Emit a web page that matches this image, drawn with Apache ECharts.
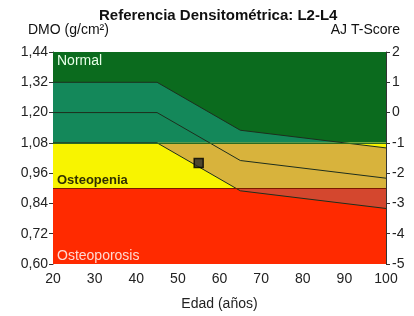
<!DOCTYPE html>
<html>
<head>
<meta charset="utf-8">
<script src="https://cdn.jsdelivr.net/npm/echarts@6/dist/echarts.min.js"></script>
<style>
html, body { margin: 0; padding: 0; background: #fff; }
#chart { width: 414px; height: 316px; }
</style>
</head>
<body>
<div id="chart"></div>
<script>
// reference curve (BMD g/cm2 by age), +1 SD / mean / -1 SD
var ages = [20, 45, 65, 100];
var upperSd = [1.32, 1.32, 1.13, 1.06];
var meanBmd = [1.20, 1.20, 1.01, 0.94];
var lowerSd = [1.08, 1.08, 0.89, 0.82];
// patient measurement [age, bmd]
var patient = [[55, 1.00]];

// WHO zones (T = -1 -> 1.08, T = -2.5 -> 0.90)
var zoneNames = ['Normal', 'Osteopenia', 'Osteoporosis'];
var zoneLimits = [[1.08, 1.44], [0.90, 1.08], [0.60, 0.90]];
var zoneColors = ['#0b6b1e', '#f8f400', '#ff2a00'];
var zoneTextColors = ['#e8ffe8', '#303000', '#ffd8d0'];
var bandColors = ['#14885a', '#d8b33c', '#d4472e'];

var ageMin = 20, ageMax = 100;
var bmdMin = 0.60, bmdMax = 1.44, bmdStep = 0.12;
var tMin = -5, tMax = 2;

function zip(xs, ys) {
    return xs.map(function (x, i) { return [x, ys[i]]; });
}

// clip a closed polygon to the horizontal slab lo..hi
function clipToSlab(pts, lo, hi) {
    var out = [];
    for (var i = 0; i < pts.length; i++) {
        var a = pts[i], b = pts[(i + 1) % pts.length];
        out.push(a);
        var cuts = [];
        [lo, hi].forEach(function (t) {
            if ((a[1] - t) * (b[1] - t) < 0) {
                var s = (t - a[1]) / (b[1] - a[1]);
                cuts.push([s, [a[0] + s * (b[0] - a[0]), t]]);
            }
        });
        cuts.sort(function (p, q) { return p[0] - q[0]; });
        cuts.forEach(function (c) { out.push(c[1]); });
    }
    return out.map(function (p) {
        return [p[0], Math.min(hi, Math.max(lo, p[1]))];
    });
}

var bandPoly = zip(ages, upperSd).concat(zip(ages, lowerSd).reverse());
var bandParts = zoneLimits.map(function (z) { return clipToSlab(bandPoly, z[0], z[1]); });

var chart = echarts.init(document.getElementById('chart'));
var font = 'Arial, "Liberation Sans", sans-serif';

var option = {
    animation: false,
    textStyle: { fontFamily: font },
    title: {
        text: 'Referencia Densitométrica: L2-L4',
        left: 94, top: 3,
        textStyle: { fontSize: 15, fontWeight: 'bold', color: '#111', fontFamily: font }
    },
    graphic: [
        { type: 'text', left: 28, top: 23, style: { text: 'DMO (g/cm²)', fontSize: 14, fill: '#111', fontFamily: font } },
        { type: 'text', right: 14, top: 23, style: { text: 'AJ T-Score', fontSize: 14, fill: '#111', fontFamily: font } }
    ],
    grid: { left: 53, right: 28, top: 52, bottom: 52 },
    xAxis: {
        type: 'value', min: ageMin, max: ageMax, interval: 10,
        name: 'Edad (años)', nameLocation: 'middle', nameGap: 33,
        nameTextStyle: { fontSize: 14, color: '#222' },
        axisLine: { lineStyle: { color: '#333' } },
        axisTick: { length: 3, lineStyle: { color: '#333' } },
        minorTick: { show: true, splitNumber: 2, length: 3, lineStyle: { color: '#333' } },
        axisLabel: { fontSize: 14, color: '#222', margin: 8 },
        splitLine: { show: false }
    },
    yAxis: [{
        type: 'value', min: bmdMin, max: bmdMax, interval: bmdStep,
        axisLine: { show: true, lineStyle: { color: '#333' } },
        axisTick: { show: true, length: 4, lineStyle: { color: '#333' } },
        axisLabel: {
            fontSize: 14, color: '#222', margin: 5,
            formatter: function (v) { return v.toFixed(2).replace('.', ','); }
        },
        splitLine: { show: false }
    }, {
        type: 'value', min: tMin, max: tMax, interval: 1, position: 'right',
        axisLine: { show: true, lineStyle: { color: '#333' } },
        axisTick: { show: true, length: 4, lineStyle: { color: '#333' } },
        axisLabel: { fontSize: 14, color: '#222', margin: 6 },
        splitLine: { show: false }
    }],
    series: [{
        // zone backgrounds
        type: 'custom', z: 1, silent: true,
        data: zoneNames.map(function (n, i) { return [ageMin, zoneLimits[i][0]]; }),
        renderItem: function (params, api) {
            var i = params.dataIndex;
            var z = zoneLimits[i];
            var p0 = api.coord([ageMin, z[1]]);
            var p1 = api.coord([ageMax, z[0]]);
            var top = i === 0;
            return {
                type: 'group',
                children: [{
                    type: 'rect',
                    shape: { x: p0[0], y: p0[1], width: p1[0] - p0[0], height: p1[1] - p0[1] },
                    style: { fill: zoneColors[i] }
                }, {
                    type: 'text',
                    x: p0[0] + 4,
                    y: top ? p0[1] + 2 : p1[1] - 1,
                    style: {
                        text: zoneNames[i], fontFamily: font,
                        fontSize: i === 1 ? 13 : 14,
                        fontWeight: i === 1 ? 'bold' : 'normal',
                        fill: zoneTextColors[i],
                        verticalAlign: top ? 'top' : 'bottom'
                    }
                }]
            };
        }
    }, {
        // age matched band, coloured by zone
        type: 'custom', z: 2, silent: true,
        data: bandParts.map(function () { return [ageMin, bmdMin]; }),
        renderItem: function (params, api) {
            return {
                type: 'polygon',
                shape: { points: bandParts[params.dataIndex].map(function (p) { return api.coord(p); }) },
                style: { fill: bandColors[params.dataIndex] }
            };
        }
    }, {
        type: 'line', z: 3, data: zip(ages, upperSd), symbol: 'none', silent: true,
        lineStyle: { color: '#1d2e1d', width: 1 }
    }, {
        type: 'line', z: 3, data: zip(ages, meanBmd), symbol: 'none', silent: true,
        lineStyle: { color: '#1d2e1d', width: 1 },
        markLine: {
            silent: true, symbol: 'none', label: { show: false },
            data: [
                { yAxis: zoneLimits[0][0], lineStyle: { color: '#2a6a22', width: 1, type: 'solid' } },
                { yAxis: zoneLimits[1][0], lineStyle: { color: '#7a1a00', width: 1, type: 'solid' } }
            ]
        }
    }, {
        type: 'line', z: 3, data: zip(ages, lowerSd), symbol: 'none', silent: true,
        lineStyle: { color: '#1d2e1d', width: 1 }
    }, {
        type: 'scatter', z: 4, data: patient, symbol: 'rect', symbolSize: 9, silent: true,
        itemStyle: { color: '#2a2a2a', borderColor: '#000', borderWidth: 1.5 }
    }]
};

chart.setOption(option);
</script>
</body>
</html>
